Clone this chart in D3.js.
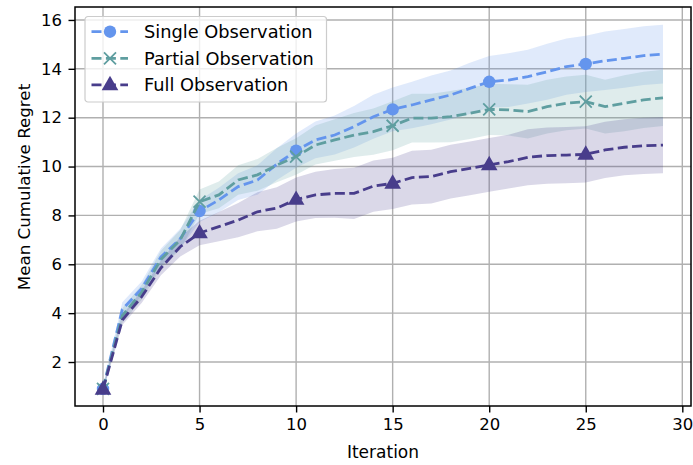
<!DOCTYPE html>
<html>
<head>
<meta charset="utf-8">
<script src="https://cdn.jsdelivr.net/npm/d3@7"></script>
<style>
  body { margin: 0; background: #fff; }
  text { font-family: "DejaVu Sans", sans-serif; }
</style>
</head>
<body>
<div id="chart"></div>
<script>
// data
var iterations = d3.range(0, 30);
var single = [0.9, 4.15, 5.0, 6.3, 7.05, 8.18, 8.63, 9.18, 9.45, 10.1, 10.65, 11.09, 11.29, 11.63, 12.04, 12.34,
              12.52, 12.73, 12.93, 13.2, 13.47, 13.54, 13.68, 13.88, 14.09, 14.2, 14.33, 14.43, 14.54, 14.6];
var partial = [0.9, 3.9, 4.85, 6.2, 7.0, 8.56, 8.84, 9.45, 9.66, 10.06, 10.41, 10.88, 11.09, 11.29, 11.43, 11.67,
               11.98, 11.98, 12.04, 12.18, 12.34, 12.32, 12.25, 12.45, 12.59, 12.66, 12.45, 12.59, 12.73, 12.81];
var full = [0.88, 3.72, 4.67, 5.85, 6.72, 7.28, 7.54, 7.81, 8.15, 8.3, 8.65, 8.84, 8.9, 8.9, 9.2, 9.31,
            9.55, 9.59, 9.79, 9.93, 10.07, 10.2, 10.38, 10.45, 10.47, 10.5, 10.68, 10.79, 10.85, 10.88];
// half-width of the shaded bands
var singleSpread = [0.1, 0.3, 0.3, 0.35, 0.4, 0.45, 0.5, 0.55, 0.6, 0.65, 0.7, 0.75, 0.8, 0.85, 0.9, 0.9,
                    0.95, 1.0, 1.0, 1.05, 1.05, 1.1, 1.1, 1.15, 1.15, 1.15, 1.2, 1.2, 1.2, 1.2];
var partialSpread = [0.1, 0.3, 0.3, 0.35, 0.4, 0.5, 0.55, 0.6, 0.65, 0.7, 0.75, 0.8, 0.85, 0.9, 0.95, 1.0,
                     1.0, 1.0, 1.05, 1.05, 1.05, 1.05, 1.1, 1.1, 1.1, 1.1, 1.1, 1.15, 1.15, 1.15];
var fullSpread = [0.1, 0.2, 0.25, 0.3, 0.4, 0.5, 0.6, 0.7, 0.8, 0.85, 0.9, 0.95, 1.0, 1.05, 1.05, 1.05,
                  1.1, 1.1, 1.1, 1.1, 1.1, 1.1, 1.15, 1.15, 1.15, 1.15, 1.15, 1.15, 1.15, 1.15];
var seriesNames = ["Single Observation", "Partial Observation", "Full Observation"];
var xTicks = [0, 5, 10, 15, 20, 25, 30];
var yTicks = [2, 4, 6, 8, 10, 12, 14, 16];

var series = [
  {name: seriesNames[0], mean: single, spread: singleSpread, color: "#6495ED", marker: "circle"},
  {name: seriesNames[1], mean: partial, spread: partialSpread, color: "#5F9EA0", marker: "x"},
  {name: seriesNames[2], mean: full, spread: fullSpread, color: "#483D8B", marker: "triangle"}
];

var width = 693, height = 465;
var plotL = 75, plotR = 691, plotT = 7, plotB = 406;

var svg = d3.select("#chart").append("svg")
    .attr("width", width)
    .attr("height", height);

var x = d3.scaleLinear().domain([-1.45, 30.45]).range([plotL, plotR]);
var y = d3.scaleLinear().domain([0.2, 16.53]).range([plotB, plotT]);

// grid
svg.append("g").selectAll("line").data(xTicks).enter().append("line")
    .attr("x1", d => x(d)).attr("x2", d => x(d))
    .attr("y1", plotT).attr("y2", plotB)
    .attr("stroke", "#b0b0b0").attr("stroke-width", 1.4);
svg.append("g").selectAll("line").data(yTicks).enter().append("line")
    .attr("x1", plotL).attr("x2", plotR)
    .attr("y1", d => y(d)).attr("y2", d => y(d))
    .attr("stroke", "#b0b0b0").attr("stroke-width", 1.4);

// bands
var area = d3.area()
    .x((d, i) => x(iterations[i]))
    .y0(d => y(d[0] - d[1]))
    .y1(d => y(d[0] + d[1]));

series.forEach(function(s) {
  svg.append("path")
      .datum(s.mean.map((m, i) => [m, s.spread[i]]))
      .attr("d", area)
      .attr("fill", s.color)
      .attr("fill-opacity", 0.2)
      .attr("stroke", "none");
});

// lines
var line = d3.line().x((d, i) => x(iterations[i])).y(d => y(d));

function drawMarker(g, type, color, cx, cy) {
  if (type == "circle") {
    g.append("circle").attr("cx", cx).attr("cy", cy).attr("r", 6.2).attr("fill", color);
  } else if (type == "x") {
    var r = 6;
    g.append("path")
        .attr("d", "M" + (cx - r) + "," + (cy - r) + "L" + (cx + r) + "," + (cy + r) +
                   "M" + (cx - r) + "," + (cy + r) + "L" + (cx + r) + "," + (cy - r))
        .attr("stroke", color).attr("stroke-width", 1.8).attr("fill", "none");
  } else {
    g.append("path")
        .attr("d", d3.symbol().type(d3.symbolTriangle).size(120))
        .attr("transform", "translate(" + cx + "," + (cy + 0.5) + ")")
        .attr("fill", color);
  }
}

series.forEach(function(s) {
  svg.append("path")
      .datum(s.mean)
      .attr("d", line)
      .attr("fill", "none")
      .attr("stroke", s.color)
      .attr("stroke-width", 2.8)
      .attr("stroke-dasharray", "10,4.4");
  var g = svg.append("g");
  s.mean.forEach(function(v, i) {
    if (i % 5 == 0) drawMarker(g, s.marker, s.color, x(iterations[i]), y(v));
  });
});

// axes
var xAxis = svg.append("g")
    .attr("transform", "translate(0," + plotB + ")")
    .call(d3.axisBottom(x).tickValues(xTicks).tickSize(6.5).tickPadding(6).tickFormat(d3.format("d")));
var yAxis = svg.append("g")
    .attr("transform", "translate(" + plotL + ",0)")
    .call(d3.axisLeft(y).tickValues(yTicks).tickSize(6.5).tickPadding(6.5).tickFormat(d3.format("d")));
[xAxis, yAxis].forEach(function(a) {
  a.select(".domain").remove();
  a.selectAll("line").attr("stroke", "#000").attr("stroke-width", 1.4);
  a.selectAll("text").attr("font-size", 16.5).attr("fill", "#000")
      .style("font-family", "DejaVu Sans, sans-serif");
});

// frame
svg.append("rect")
    .attr("x", plotL).attr("y", plotT)
    .attr("width", plotR - plotL).attr("height", plotB - plotT)
    .attr("fill", "none").attr("stroke", "#000").attr("stroke-width", 1.5);

svg.append("text")
    .attr("x", (plotL + plotR) / 2).attr("y", 458)
    .attr("text-anchor", "middle")
    .attr("font-size", 17)
    .text("Iteration");
svg.append("text")
    .attr("transform", "translate(29.5,187) rotate(-90)")
    .attr("text-anchor", "middle")
    .attr("font-size", 16.7)
    .text("Mean Cumulative Regret");

// legend
var legend = svg.append("g").attr("transform", "translate(85,16.5)");
legend.append("rect")
    .attr("width", 241.5).attr("height", 85.5)
    .attr("rx", 3)
    .attr("fill", "#fff").attr("fill-opacity", 0.8)
    .attr("stroke", "#ccc").attr("stroke-width", 1.2);
series.forEach(function(s, i) {
  var ly = 15.2 + i * 26.6;
  legend.append("line")
      .attr("x1", 6.5).attr("x2", 43)
      .attr("y1", ly).attr("y2", ly)
      .attr("stroke", s.color).attr("stroke-width", 2.8)
      .attr("stroke-dasharray", "10,4.4");
  drawMarker(legend, s.marker, s.color, 25, ly);
  legend.append("text")
      .attr("x", 59).attr("y", ly + 6.3)
      .attr("font-size", 17.8)
      .text(s.name);
});
</script>
</body>
</html>
